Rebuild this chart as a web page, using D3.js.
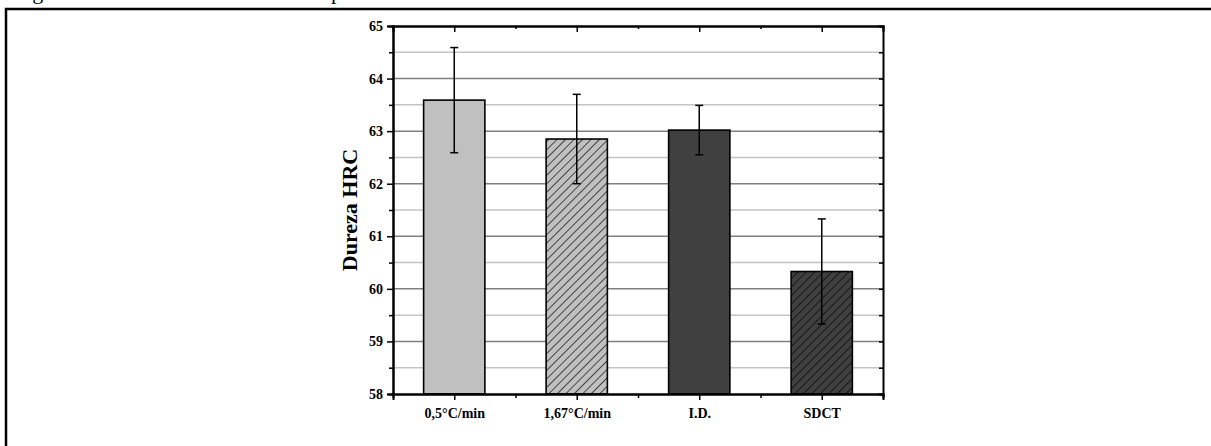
<!DOCTYPE html>
<html>
<head>
<meta charset="utf-8">
<script src="https://cdn.jsdelivr.net/npm/d3@7"></script>
<style>
  body { margin: 0; background: #fff; }
  svg { display: block; }
  text { font-family: "Liberation Serif", "Times New Roman", serif; font-weight: bold; fill: #000; }
</style>
</head>
<body>
<div id="chart"></div>
<script>
// categories and values
const categories = ["0,5°C/min", "1,67°C/min", "I.D.", "SDCT"];
const hardness = [63.59, 62.85, 63.02, 60.33];
const errors = [1.0, 0.85, 0.47, 1.0];
const fills = ["#c0c0c0", "#c0c0c0", "#404040", "#404040"];
const hatched = [false, true, false, true];
const yTicks = [58, 59, 60, 61, 62, 63, 64, 65];
const yMinor = [58.5, 59.5, 60.5, 61.5, 62.5, 63.5, 64.5];

const W = 1211, H = 446;
const pLeft = 393, pRight = 883, pTop = 26, pBottom = 394;

const svg = d3.select("#chart").append("svg")
  .attr("width", W).attr("height", H);

// hatch patterns
const defs = svg.append("defs");
fills.forEach((f, i) => {
  const p = defs.append("pattern")
    .attr("id", "hatch" + i)
    .attr("patternUnits", "userSpaceOnUse")
    .attr("width", 6).attr("height", 10)
    .attr("patternTransform", "rotate(45)");
  p.append("rect").attr("width", 6).attr("height", 10).attr("fill", f);
  p.append("line").attr("x1", 0).attr("y1", 0).attr("x2", 0).attr("y2", 10)
    .attr("stroke", "#000").attr("stroke-width", 1.3);
});

// outer frame (cut off on the right and bottom) + caption remains at top
svg.append("path").attr("d", `M6,${H} V9 H${W}`)
  .attr("fill", "none").attr("stroke", "#000").attr("stroke-width", 2.5);
svg.append("text").attr("x", 14).attr("y", -1).style("font-weight", "normal")
  .style("font-size", "22px").text("Figura");
svg.append("text").attr("x", 331).attr("y", -1).style("font-weight", "normal")
  .style("font-size", "22px").text("p");

const x = d3.scaleBand().domain(categories).range([pLeft, pRight])
  .paddingInner(0.5).paddingOuter(0.25);
const y = d3.scaleLinear().domain([58, 65]).range([pBottom, pTop]);
const step = x.step();
const centers = categories.map(c => x(c) + x.bandwidth() / 2);
const bounds = centers.slice(0, -1).map(c => c + step / 2);

// grid lines
const g = svg.append("g");
g.selectAll(".gmin").data(yMinor).join("line")
  .attr("x1", pLeft).attr("x2", pRight)
  .attr("y1", d => y(d)).attr("y2", d => y(d))
  .attr("stroke", "#c4c4c4").attr("stroke-width", 1.5);
g.selectAll(".gmaj").data(yTicks.slice(1, -1)).join("line")
  .attr("x1", pLeft).attr("x2", pRight)
  .attr("y1", d => y(d)).attr("y2", d => y(d))
  .attr("stroke", "#808080").attr("stroke-width", 1.5);

// bars
svg.selectAll(".bar").data(hardness).join("rect")
  .attr("x", (d, i) => x(categories[i]))
  .attr("width", x.bandwidth())
  .attr("y", d => y(d))
  .attr("height", d => y(58) - y(d))
  .attr("fill", (d, i) => hatched[i] ? `url(#hatch${i})` : fills[i])
  .attr("stroke", "#000").attr("stroke-width", 1.6);

// error bars
const eb = svg.selectAll(".err").data(hardness).join("g");
eb.append("line")
  .attr("x1", (d, i) => centers[i]).attr("x2", (d, i) => centers[i])
  .attr("y1", (d, i) => y(d + errors[i])).attr("y2", (d, i) => y(d - errors[i]))
  .attr("stroke", "#000").attr("stroke-width", 1.5);
[1, -1].forEach(s => {
  eb.append("line")
    .attr("x1", (d, i) => centers[i] - 4).attr("x2", (d, i) => centers[i] + 4)
    .attr("y1", (d, i) => y(d + s * errors[i])).attr("y2", (d, i) => y(d + s * errors[i]))
    .attr("stroke", "#000").attr("stroke-width", 1.5);
});

// axes
svg.append("g").attr("transform", `translate(${pLeft},0)`)
  .call(d3.axisLeft(y).tickValues(yTicks).tickSize(6).tickPadding(4).tickFormat(d3.format("d")));
svg.append("g").attr("transform", `translate(${pLeft},0)`)
  .call(d3.axisLeft(y).tickValues(yMinor).tickSize(4).tickFormat(""));
svg.append("g").attr("transform", `translate(${pRight},0)`)
  .call(d3.axisRight(y).tickValues(yTicks.concat(yMinor)).tickSize(-4).tickFormat(""));

const xb = d3.scaleLinear().domain([pLeft, pRight]).range([pLeft, pRight]);
svg.append("g").attr("transform", `translate(0,${pBottom})`)
  .call(d3.axisBottom(xb).tickValues(centers).tickSize(6).tickPadding(8)
    .tickFormat((d, i) => categories[i]));
svg.append("g").attr("transform", `translate(0,${pBottom})`)
  .call(d3.axisBottom(xb).tickValues(bounds).tickSize(4).tickFormat(""));
svg.append("g").attr("transform", `translate(0,${pTop})`)
  .call(d3.axisTop(xb).tickValues(centers).tickSize(-6).tickFormat(""));
svg.append("g").attr("transform", `translate(0,${pTop})`)
  .call(d3.axisTop(xb).tickValues(bounds).tickSize(-3).tickFormat(""));

svg.selectAll(".domain").attr("stroke", "#000").attr("stroke-width", 2);
svg.selectAll(".tick line").attr("stroke", "#000").attr("stroke-width", 1.5);
svg.selectAll(".tick text").style("font-size", "14px")
  .style("font-family", '"Liberation Serif", serif').style("font-weight", "bold");

// y axis title
svg.append("text")
  .attr("transform", `translate(357,${(pTop + pBottom) / 2}) rotate(-90)`)
  .attr("text-anchor", "middle")
  .style("font-size", "22px")
  .text("Dureza HRC");
</script>
</body>
</html>
